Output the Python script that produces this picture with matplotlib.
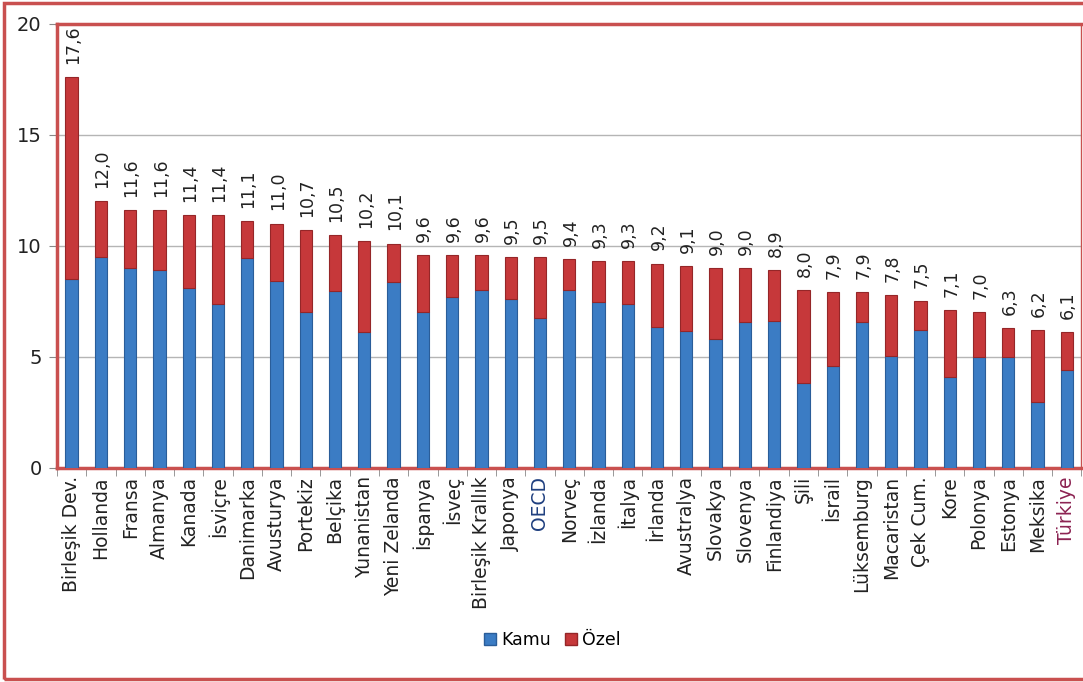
import matplotlib
matplotlib.use("Agg")
import matplotlib.pyplot as plt
from matplotlib.patches import Rectangle, Patch
from matplotlib.ticker import FixedLocator
import numpy as np

ulkeler = ["Birleşik Dev.", "Hollanda", "Fransa", "Almanya", "Kanada", "İsviçre",
           "Danimarka", "Avusturya", "Portekiz", "Belçika", "Yunanistan", "Yeni Zelanda",
           "İspanya", "İsveç", "Birleşik Krallık", "Japonya", "OECD", "Norveç",
           "İzlanda", "İtalya", "İrlanda", "Avustralya", "Slovakya", "Slovenya",
           "Finlandiya", "Şili", "İsrail", "Lüksemburg", "Macaristan", "Çek Cum.",
           "Kore", "Polonya", "Estonya", "Meksika", "Türkiye"]
toplam = [17.6, 12.0, 11.6, 11.6, 11.4, 11.4, 11.1, 11.0, 10.7, 10.5, 10.2, 10.1,
          9.6, 9.6, 9.6, 9.5, 9.5, 9.4, 9.3, 9.3, 9.2, 9.1, 9.0, 9.0, 8.9,
          8.0, 7.9, 7.9, 7.8, 7.5, 7.1, 7.0, 6.3, 6.2, 6.1]
kamu = [8.5, 9.5, 9.0, 8.9, 8.1, 7.4, 9.45, 8.4, 7.0, 7.95, 6.1, 8.35,
        7.0, 7.7, 8.0, 7.6, 6.75, 8.0, 7.45, 7.4, 6.35, 6.15, 5.8, 6.55, 6.6,
        3.8, 4.6, 6.55, 5.05, 6.2, 4.1, 5.0, 5.0, 2.95, 4.4]
ozel = [t - k for t, k in zip(toplam, kamu)]

mavi = "#3b7cc4"
kirmizi = "#c6383a"
cerceve = "#c9504f"

fig = plt.figure(figsize=(10.83, 6.82), dpi=100)
ax = fig.add_axes([0.0526, 0.314, 0.946, 0.651])

x = np.arange(len(ulkeler))
ax.bar(x, kamu, width=0.42, color=mavi, edgecolor="#2a5d99", linewidth=0.8, zorder=3, label="Kamu")
ax.bar(x, ozel, bottom=kamu, width=0.42, color=kirmizi, edgecolor="#952628", linewidth=0.8,
       zorder=3, label="Özel")

for i, t in enumerate(toplam):
    ax.annotate(f"{t:.1f}".replace(".", ","), (i, t), xytext=(1, 9.5), textcoords="offset points",
                rotation=90, ha="center", va="bottom", fontsize=12.5, color="#222222",
                annotation_clip=False)

ax.set_xlim(-0.5, len(ulkeler) - 0.5)
ax.set_ylim(0, 20)
ax.set_yticks([0, 5, 10, 15, 20])
ax.tick_params(axis="y", labelsize=14, length=6, color="#888888", pad=5, labelcolor="#222222")
ax.yaxis.grid(True, color="#b5b5b5", linewidth=1, zorder=0)

ax.set_xticks(x)
ax.set_xticklabels(ulkeler, rotation=90, fontsize=13.5, color="#222222")
ax.tick_params(axis="x", which="major", length=0, pad=6)
ax.xaxis.set_minor_locator(FixedLocator(np.arange(-0.5, len(ulkeler), 1)))
ax.tick_params(axis="x", which="minor", length=6, color="#888888")
for lbl in ax.get_xticklabels():
    if lbl.get_text() == "OECD":
        lbl.set_color("#1f3f7f")
    if lbl.get_text() == "Türkiye":
        lbl.set_color("#8c2352")

for s in ax.spines.values():
    s.set_color(cerceve)
    s.set_linewidth(2.5)
ax.spines["right"].set_linewidth(1)

fig.add_artist(Rectangle((0.004, 0.005), 1.1, 0.99, transform=fig.transFigure, fill=False,
                         edgecolor=cerceve, linewidth=2.5))

handles = [Patch(facecolor=mavi, edgecolor="#2a5d99"), Patch(facecolor=kirmizi, edgecolor="#952628")]
fig.legend(handles, ["Kamu", "Özel"], loc="center", bbox_to_anchor=(0.51, 0.062), ncol=2,
           frameon=False, fontsize=12.5, handlelength=0.7, handleheight=0.7, handletextpad=0.3,
           columnspacing=0.8)

fig.savefig("out.png", dpi=100)
